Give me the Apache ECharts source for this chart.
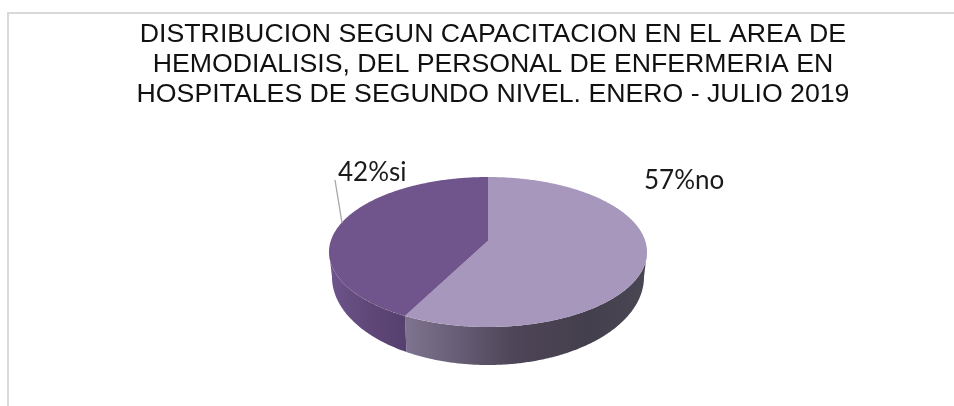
<!DOCTYPE html>
<html><head><meta charset="utf-8">
<style>html,body{margin:0;padding:0;background:#fff}#c{width:954px;height:406px}</style>
<script src="https://cdn.jsdelivr.net/npm/echarts@6/dist/echarts.min.js"></script>
</head><body><div id="c"></div>
<script>
const categories = ['no', 'si'];
const values = [57, 42];
const titleLines = [
  'DISTRIBUCION SEGUN CAPACITACION EN EL AREA DE',
  'HEMODIALISIS, DEL PERSONAL DE ENFERMERIA EN',
  'HOSPITALES DE SEGUNDO NIVEL. ENERO - JULIO 2019'
];

const topColors = ['#A797BC', '#70558C'];
const wallStops = [
  [[0, '#7F7490'], [0.45, '#4E4558'], [0.75, '#443F4C'], [1, '#4A4653']],
  [[0, '#6E548B'], [0.5, '#604979'], [1, '#553F6E']]
];
const geom = {cx: 488, cy: 252, rx: 159, ry: 75, bcy: 277, brx: 156, bry: 88, tilt: 0.15};
const labelPos = [[644, 181], [338, 173]];
const leader = [null, [[335, 180], [342, 223]]];

const total = values.reduce((a, b) => a + b, 0);
function toEllipseAngle(theta) {
  if (theta >= 2 * Math.PI - 1e-6) return 1.5 * Math.PI;
  const a = -geom.tilt, u = Math.sin(theta), v = -Math.cos(theta);
  const d = 1 + a * v;
  let p = Math.atan2((v + a) / d, u * Math.sqrt(1 - a * a) / d);
  if (p < -Math.PI / 2) p += 2 * Math.PI;
  return p;
}
function arc(cx, cy, rx, ry, p0, p1) {
  const n = Math.max(2, Math.ceil(Math.abs(p1 - p0) / 0.01)), pts = [];
  for (let i = 0; i <= n; i++) {
    const p = p0 + (p1 - p0) * i / n;
    pts.push([cx + rx * Math.cos(p), cy + ry * Math.sin(p)]);
  }
  return pts;
}
function renderItem(params, api) {
  const i = params.dataIndex, g = geom;
  let before = 0;
  for (let k = 0; k < i; k++) before += values[k];
  const p0 = toEllipseAngle(before / total * 2 * Math.PI);
  const p1 = toEllipseAngle((before + api.value(0)) / total * 2 * Math.PI);
  const children = [];
  const w0 = Math.max(p0, 0), w1 = Math.min(p1, Math.PI);
  if (w1 > w0) {
    const pts = arc(g.cx, g.cy, g.rx, g.ry, w0, w1)
      .concat(arc(g.cx, g.bcy, g.brx, g.bry, w1, w0));
    const xs = pts.map(q => q[0]);
    children.push({
      type: 'polygon', shape: {points: pts},
      style: {fill: {type: 'linear', global: true,
        x: Math.min(...xs), y: 0, x2: Math.max(...xs), y2: 0,
        colorStops: wallStops[i].map(s => ({offset: s[0], color: s[1]}))}}
    });
  }
  const apex = [g.cx, g.cy - g.tilt * g.ry];
  children.push({
    type: 'polygon',
    shape: {points: [apex].concat(arc(g.cx, g.cy, g.rx, g.ry, p0, p1))},
    style: {fill: topColors[i]}
  });
  if (leader[i]) children.push({
    type: 'polyline', shape: {points: leader[i]},
    style: {stroke: '#A6A6A6', lineWidth: 1.3, fill: null}
  });
  children.push({
    type: 'text', x: labelPos[i][0], y: labelPos[i][1],
    style: {text: api.value(0) + '%' + categories[i], fill: '#1a1a1a',
      font: '26px Lato, "Noto Sans", sans-serif', textAlign: 'left', textVerticalAlign: 'middle'}
  });
  return {type: 'group', children};
}
const chart = echarts.init(document.getElementById('c'), null, {renderer: 'canvas'});
chart.setOption({
  animation: false,
  backgroundColor: '#fff',
  title: {
    text: titleLines.join('\n'), left: 488, top: 15, textAlign: 'center',
    textStyle: {fontFamily: '"Liberation Sans", Arial, sans-serif', fontSize: 26.7, fontWeight: 'normal', color: '#111', lineHeight: 30}
  },
  graphic: [
    {type: 'polyline', z: 0, shape: {points: [[8, 406], [8, 13], [954, 13]]}, style: {stroke: '#D9D9D9', lineWidth: 2, fill: null}}
  ],
  series: [{
    type: 'custom', coordinateSystem: 'none', renderItem,
    data: values.map((v, i) => ({name: categories[i], value: [v]}))
  }]
});
</script></body></html>
